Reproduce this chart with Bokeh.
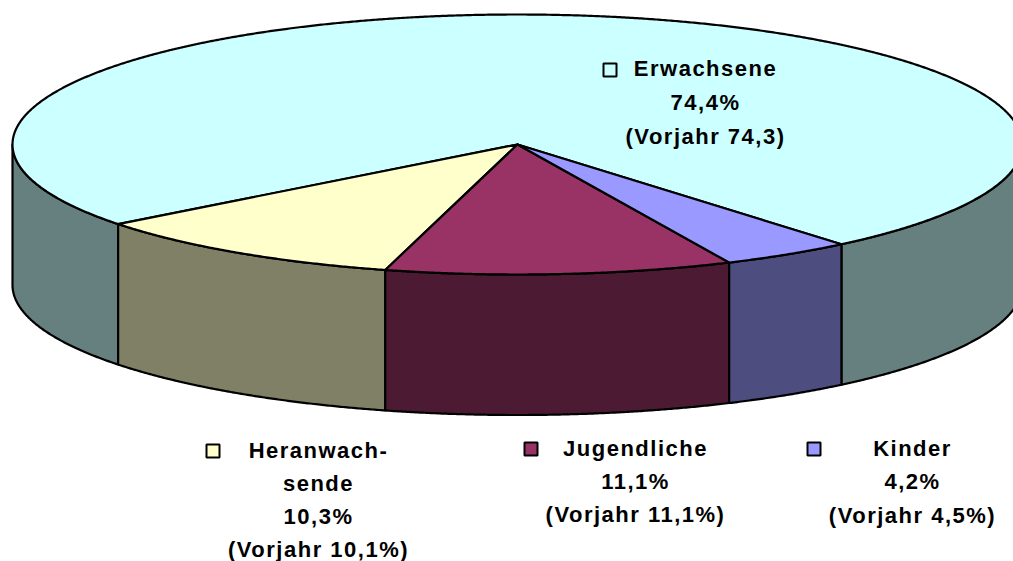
import numpy as np
from bokeh.core.properties import value
from bokeh.embed import file_html
from bokeh.models import Range1d
from bokeh.plotting import figure
from bokeh.resources import INLINE

# Slices, clockwise on screen, from the first edge of "Kinder"
categories = ["Kinder", "Jugendliche", "Heranwachsende", "Erwachsene"]
shares = [4.2, 11.1, 10.3, 74.4]
top_colors = ["#9999FF", "#993366", "#FFFFCC", "#CCFFFF"]
side_colors = ["#4D4D80", "#4D1A33", "#808066", "#668080"]

# Labels
erw_lines = ["Erwachsene", "74,4%", "(Vorjahr 74,3)"]
her_lines = ["Heranwach-", "sende", "10,3%", "(Vorjahr 10,1%)"]
jug_lines = ["Jugendliche", "11,1%", "(Vorjahr 11,1%)"]
kin_lines = ["Kinder", "4,2%", "(Vorjahr 4,5%)"]

# Layout in picture pixels
CX, CY, RX, RY, DEPTH = 517.0, 144.0, 505.0, 130.0, 140.5
START_DEG = 50.1
FONT = "Liberation Sans"
FONT_SIZE = "22px"
SPACING = 1.5

p = figure(width=1013, height=561, output_backend="svg", toolbar_location=None,
           x_range=Range1d(0, 1013), y_range=Range1d(561, 0), min_border=0,
           outline_line_color=None, background_fill_color="white", border_fill_color="white")
p.axis.visible = False
p.grid.visible = False
p.styles = {"letter-spacing": "%spx" % SPACING}


def arc(a0, a1):
    t = np.radians(np.linspace(a0, a1, max(int(abs(a1 - a0) * 4), 2)))
    return CX + RX * np.cos(t), CY + RY * np.sin(t)


def side(a0, a1, fill):
    x, y = arc(a0, a1)
    p.patch(np.r_[x, x[::-1]], np.r_[y, y[::-1] + DEPTH], fill_color=fill,
            line_color="black", line_width=2.2, line_join="round")


edges = START_DEG + np.r_[0, np.cumsum(shares)] * 3.6
spans = list(zip(edges[:-1], edges[1:]))

# Side walls: the large slice wraps around the back, so it has two visible parts
e0, e1 = spans[3]
side(e0, 180, side_colors[3])
side(360, e1, side_colors[3])
for i in (2, 1, 0):
    side(spans[i][0], spans[i][1], side_colors[i])

# Top faces
for (a0, a1), col in zip(reversed(spans), reversed(top_colors)):
    x, y = arc(a0, a1)
    p.patch(np.r_[CX, x], np.r_[CY, y], fill_color=col, line_color="black",
            line_width=2.2, line_join="round")

# Labels: Bokeh measures without the letter spacing, so centre each line by hand
for lines, xc, ys in [
    (erw_lines, 705, [68, 102, 136]),
    (her_lines, 318, [450, 483, 516, 549]),
    (jug_lines, 635, [448, 481, 514]),
    (kin_lines, 912, [448, 481, 515]),
]:
    xs = [xc - len(t) * SPACING / 2 for t in lines]
    p.text(xs, ys, text=lines, text_font=value(FONT), text_font_style="bold",
           text_font_size=FONT_SIZE, text_align="center", text_baseline="middle", text_color="black")

# Legend keys
p.rect([609.5, 212.5, 530.5, 813.5], [69.5, 450.5, 448.5, 448.5], width=13, height=13,
       fill_color=[top_colors[3], top_colors[2], top_colors[1], top_colors[0]],
       line_color="black", line_width=2)

open("out.html", "w").write(file_html(p, INLINE))
